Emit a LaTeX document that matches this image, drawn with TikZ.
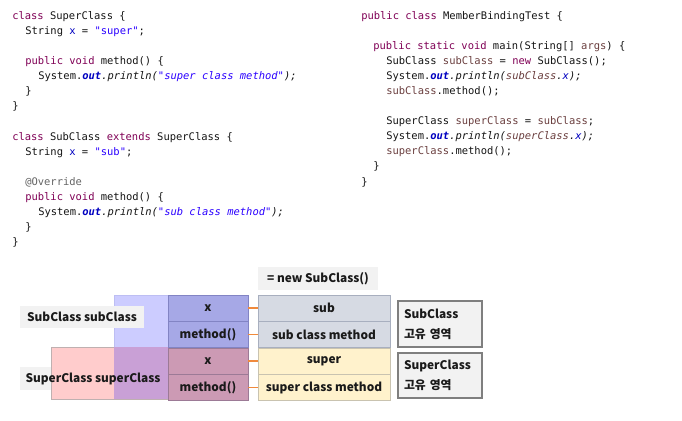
\documentclass[tikz,border=0pt]{standalone}
\usepackage{fontspec}
\usetikzlibrary{positioning}
\newfontfamily\codefont{DejaVu Sans Mono}
\newfontfamily\krfont{Noto Sans CJK KR}
\definecolor{CodeInk}{HTML}{141414}
\definecolor{KeyWord}{HTML}{7F0055}
\definecolor{StrBlue}{HTML}{2A00FF}
\definecolor{FieldBlue}{HTML}{0000C0}
\definecolor{LocalBrown}{HTML}{6A3E3E}
\definecolor{AnnGray}{HTML}{646464}
\definecolor{Ink}{HTML}{1A1A1A}
\definecolor{TagGray}{HTML}{F2F2F2}
\definecolor{BoxEdge}{HTML}{7F7F7F}
\definecolor{SubLight}{HTML}{CCCCFF}
\definecolor{SubCell}{HTML}{A6A8E6}
\definecolor{SubEdge}{HTML}{8284C4}
\definecolor{SupLight}{HTML}{FFCCCC}
\definecolor{SupEdge}{HTML}{BFB0B0}
\definecolor{MixLight}{HTML}{C9A0D6}
\definecolor{SupCell}{HTML}{CC9AB4}
\definecolor{SupCellEdge}{HTML}{9C7A96}
\definecolor{ValBlue}{HTML}{D6DAE3}
\definecolor{ValBlueEdge}{HTML}{A8AFBF}
\definecolor{ValGold}{HTML}{FFF2CC}
\definecolor{ValGoldEdge}{HTML}{C9C3B0}
\definecolor{Link}{HTML}{F08A3C}
\newcommand{\kw}[1]{\textcolor{KeyWord}{#1}}
\newcommand{\jstr}[1]{\textcolor{StrBlue}{#1}}
\newcommand{\fld}[1]{\textcolor{FieldBlue}{#1}}
\newcommand{\loc}[1]{\textcolor{LocalBrown}{#1}}
\newcommand{\ann}[1]{\textcolor{AnnGray}{#1}}
\newcommand{\outfld}{\textcolor{FieldBlue}{\bfseries\itshape out}}
\newcommand{\diagfont}{\krfont\bfseries\fontsize{8.9}{15}\selectfont}
\tikzset{
  codeline/.style={anchor=base west,inner sep=0pt,font=\codefont\fontsize{7.85}{9}\selectfont,text=CodeInk},
  tag/.style={fill=TagGray,inner sep=0pt,font=\diagfont,text=Ink},
  tagtext/.style={inner sep=0pt,font=\diagfont,text=Ink},
  subcell/.style={draw=SubEdge,fill=SubCell,minimum width=60pt,minimum height=19.5pt,inner sep=0pt,font=\diagfont,text=Ink},
  supcell/.style={draw=SupCellEdge,fill=SupCell,minimum width=60pt,minimum height=19.5pt,inner sep=0pt,font=\diagfont,text=Ink},
  valsub/.style={draw=ValBlueEdge,fill=ValBlue,minimum width=99pt,minimum height=19.5pt,inner sep=0pt,font=\diagfont,text=Ink},
  valsup/.style={draw=ValGoldEdge,fill=ValGold,minimum width=99pt,minimum height=19.5pt,inner sep=0pt,font=\diagfont,text=Ink},
  ownbox/.style={draw=BoxEdge,fill=TagGray,line width=0.8pt,minimum width=63pt,text width=54pt,align=left,inner xsep=4.5pt,font=\diagfont,text=Ink},
  link/.style={draw=Link,line width=1.2pt}
}
\begin{document}
\begin{tikzpicture}[x=0.75pt,y=-0.75pt]
  \useasboundingbox (0,0) rectangle (682,421);

  % SuperClass / SubClass source
  \node[codeline] (sup1) at (12,19) {\kw{class} SuperClass \{};
  \node[codeline] (sup2) at (25,34) {String \fld{x} = \jstr{"super"};};
  \node[codeline] (sup3) at (25,64) {\kw{public} \kw{void} method() \{};
  \node[codeline] (sup4) at (38,79) {System.\outfld\textit{.println(\jstr{"super class method"});}};
  \node[codeline] (sup5) at (25,94) {\}};
  \node[codeline] (sup6) at (12,109) {\}};

  \node[codeline] (sub1) at (12,140) {\kw{class} SubClass \kw{extends} SuperClass \{};
  \node[codeline] (sub2) at (25,155) {String \fld{x} = \jstr{"sub"};};
  \node[codeline] (sub3) at (25,185) {\ann{@Override}};
  \node[codeline] (sub4) at (25,200) {\kw{public} \kw{void} method() \{};
  \node[codeline] (sub5) at (38,215) {System.\outfld\textit{.println(\jstr{"sub class method"});}};
  \node[codeline] (sub6) at (25,230) {\}};
  \node[codeline] (sub7) at (12,245) {\}};

  % test class
  \node[codeline] (tst1) at (361,19) {\kw{public} \kw{class} MemberBindingTest \{};
  \node[codeline] (tst2) at (373,49) {\kw{public} \kw{static} \kw{void} main(String[] \loc{args}) \{};
  \node[codeline] (tst3) at (386,64) {SubClass \loc{subClass} = \kw{new} SubClass();};
  \node[codeline] (tst4) at (386,79) {System.\outfld\textit{.println(\loc{subClass}.\fld{x});}};
  \node[codeline] (tst5) at (386,94) {\loc{subClass}.method();};
  \node[codeline] (tst6) at (386,124) {SuperClass \loc{superClass} = \loc{subClass};};
  \node[codeline] (tst7) at (386,139) {System.\outfld\textit{.println(\loc{superClass}.\fld{x});}};
  \node[codeline] (tst8) at (386,154) {\loc{superClass}.method();};
  \node[codeline] (tst9) at (373,169) {\}};
  \node[codeline] (tst10) at (361,185) {\}};

  % object areas
  \fill[TagGray] (20,367) rectangle (165,390);
  \draw[SupEdge,fill=SupLight] (51,347) rectangle (248,399);
  \draw[SubLight!80!SubEdge,fill=SubLight] (114,295) rectangle (248,347);
  \fill[MixLight] (114,347) rectangle (168,399);
  \node[tag,minimum width=93pt,minimum height=16.5pt] (subref) at (82,317) {SubClass subClass};
  \node[tagtext] (superref) at (93,378.5) {SuperClass superClass};

  % fields and methods
  \node[subcell] (subx) at (208,308) {x};
  \node[subcell,below=0pt of subx] (subm) {method()};
  \node[supcell,below=0pt of subm] (supx) {x};
  \node[supcell,below=0pt of supx] (supm) {method()};

  \node[tag,minimum width=90pt,minimum height=17.25pt] (newobj) at (318,278.5) {= new SubClass()};
  \node[valsub] (vsubx) at (324,308) {sub};
  \node[valsub,below=0pt of vsubx] (vsubm) {sub class method};
  \node[valsup,below=0pt of vsubm] (vsupx) {super};
  \node[valsup,below=0pt of vsupx] (vsupm) {super class method};

  \draw[link] (subx.east) -- (vsubx.west);
  \draw[link] (subm.east) -- (vsubm.west);
  \draw[link] (supx.east) -- (vsupx.west);
  \draw[link] (supm.east) -- (vsupm.west);

  \node[ownbox,minimum height=34.5pt] (subown) at (440,324) {SubClass\\고유 영역};
  \node[ownbox,minimum height=33.75pt] (supown) at (440,375.5) {SuperClass\\고유 영역};
\end{tikzpicture}
\end{document}
